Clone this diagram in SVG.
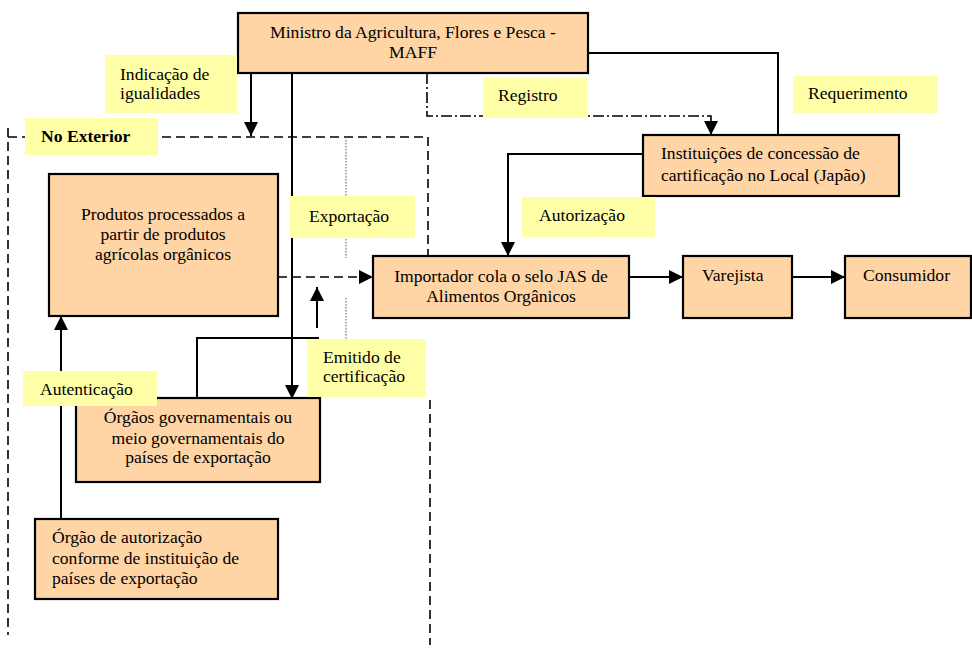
<svg xmlns="http://www.w3.org/2000/svg" width="972" height="657" viewBox="0 0 972 657">
<style>
.box{fill:#FFD5A6;stroke:#000;stroke-width:2.2}
.lbl{fill:#FFFFA8;stroke:none}
.t{font-family:'Liberation Serif','Times New Roman','DejaVu Serif',serif;font-size:17.6px;fill:#000}
.b{font-weight:bold}
.c{text-anchor:middle}
.ln{fill:none;stroke:#000;stroke-width:2}
.dash{fill:none;stroke:#000;stroke-width:1.6;stroke-dasharray:9,5}
.dashd{fill:none;stroke:#000;stroke-width:1.6;stroke-dasharray:11,3,2,3}
.dot{fill:none;stroke:#777;stroke-width:1.2;stroke-dasharray:1.5,1.5}
</style>
<defs>
<marker id="ah" markerUnits="userSpaceOnUse" markerWidth="16" markerHeight="16" refX="14" refY="7" orient="auto">
<path d="M0,0 L14,7 L0,14 z" fill="#000"/>
</marker>
</defs>
<rect width="972" height="657" fill="#fff"/>
<g id="boundary">
<path class="dash" d="M8,128 V635 M8,137 H428 M428,137 V256 M430,400 V645"/>
<path class="dot" d="M346,137 V258 M346,298 V340"/>
</g>
<g id="connectors">
<path class="ln" d="M251,73 V136" marker-end="url(#ah)"/>
<path class="ln" d="M292,73 V399" marker-end="url(#ah)"/>
<path class="dashd" d="M427,73 V116 H711 V135" marker-end="url(#ah)"/>
<path class="ln" d="M588,53 H778 V135"/>
<path class="ln" d="M643,154 H508 V256" marker-end="url(#ah)"/>
<path class="dash" d="M278,277 H373" marker-end="url(#ah)"/>
<path class="ln" d="M629,277 H683" marker-end="url(#ah)"/>
<path class="ln" d="M792,277 H845" marker-end="url(#ah)"/>
<path class="ln" d="M197,398 V338 H319"/>
<path class="ln" d="M317,328 V287" marker-end="url(#ah)"/>
<path class="ln" d="M61,519 V316" marker-end="url(#ah)"/>
</g>
<g id="maff" font-family="Liberation Serif, serif">
<rect class="box" x="238" y="13" width="350" height="60"/>
<text class="t c" x="413" y="38">Ministro da Agricultura, Flores e Pesca -</text>
<text class="t c" x="413" y="58">MAFF</text>
</g>
<g id="instituicoes">
<rect class="box" x="643" y="135" width="256" height="61"/>
<text class="t" x="661" y="159">Instituições de concessão de</text>
<text class="t" x="661" y="181">cartificação no Local (Japão)</text>
</g>
<g id="produtos">
<rect class="box" x="49" y="174" width="229" height="142"/>
<text class="t c" x="163" y="220">Produtos processados a</text>
<text class="t c" x="163" y="240">partir de produtos</text>
<text class="t c" x="163" y="260">agrícolas orgânicos</text>
</g>
<g id="importador">
<rect class="box" x="373" y="256" width="256" height="62"/>
<text class="t c" x="501" y="282">Importador cola o selo JAS de</text>
<text class="t c" x="501" y="302">Alimentos Orgânicos</text>
</g>
<g id="varejista">
<rect class="box" x="683" y="256" width="109" height="62"/>
<text class="t" x="702" y="281">Varejista</text>
</g>
<g id="consumidor">
<rect class="box" x="845" y="256" width="126" height="62"/>
<text class="t" x="863" y="281">Consumidor</text>
</g>
<g id="orgaos-governamentais">
<rect class="box" x="76" y="398" width="244" height="84"/>
<text class="t c" x="198" y="423">Órgãos governamentais ou</text>
<text class="t c" x="198" y="444">meio governamentais do</text>
<text class="t c" x="198" y="463">países de exportação</text>
</g>
<g id="orgao-autorizacao">
<rect class="box" x="35" y="519" width="243" height="80"/>
<text class="t" x="52" y="543">Órgão de autorização</text>
<text class="t" x="52" y="564">conforme de instituição de</text>
<text class="t" x="52" y="584">países de exportação</text>
</g>
<g id="label-indicacao">
<rect class="lbl" x="105" y="55" width="132" height="58"/>
<text class="t" x="120" y="80">Indicação de</text>
<text class="t" x="120" y="99">igualidades</text>
</g>
<g id="label-no-exterior">
<rect class="lbl" x="25" y="118" width="133" height="37"/>
<text class="t b" x="41" y="142">No Exterior</text>
</g>
<g id="label-registro">
<rect class="lbl" x="483" y="77" width="104" height="41"/>
<text class="t" x="498" y="101">Registro</text>
</g>
<g id="label-requerimento">
<rect class="lbl" x="793" y="76" width="145" height="37"/>
<text class="t" x="808" y="99">Requerimento</text>
</g>
<g id="label-autorizacao">
<rect class="lbl" x="522" y="197" width="133" height="40"/>
<text class="t" x="539" y="221">Autorização</text>
</g>
<g id="label-exportacao">
<rect class="lbl" x="290" y="196" width="125" height="42"/>
<text class="t" x="309" y="222">Exportação</text>
</g>
<g id="label-emitido">
<rect class="lbl" x="307" y="339" width="119" height="58"/>
<text class="t" x="323" y="363">Emitido de</text>
<text class="t" x="323" y="382">certificação</text>
</g>
<g id="label-autenticacao">
<rect class="lbl" x="23" y="371" width="134" height="35"/>
<text class="t" x="40" y="395">Autenticação</text>
</g>
</svg>
